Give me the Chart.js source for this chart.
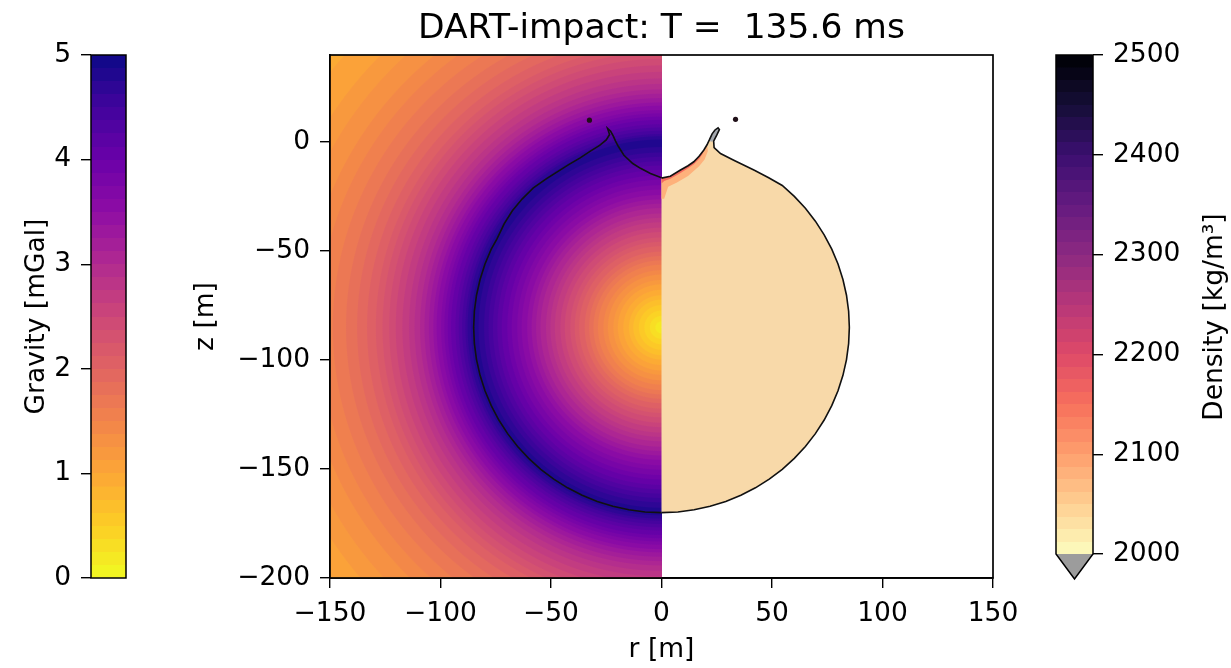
<!DOCTYPE html>
<html><head><meta charset="utf-8">
<script src="https://cdn.jsdelivr.net/npm/chart.js@4.4.1/dist/chart.umd.min.js"></script>
<style>
html,body{margin:0;padding:0;background:#fff;width:1231px;height:668px;overflow:hidden}
canvas{position:absolute;left:0;top:0}
</style></head><body>
<canvas id="cbG" width="1231" height="668"></canvas>
<canvas id="main" width="1231" height="668"></canvas>
<canvas id="cbD" width="1231" height="668"></canvas>
<script>
// ---------------- data ----------------
const titleText = 'DART-impact: T =  135.6 ms';
const xTitle = 'r [m]';
const zTitle = 'z [m]';
const gravityTitle = 'Gravity [mGal]';
const densityTitle = 'Density [kg/m\u00B3]';
const xTicks = [-150, -100, -50, 0, 50, 100, 150];
const zTicks = [-200, -150, -100, -50, 0];
const xRange = [-150, 150];
const zRange = [-200, 40];
const gravityTicks = [0, 1, 2, 3, 4, 5];
const densityTicks = [2000, 2100, 2200, 2300, 2400, 2500];
const gravityRange = [0, 5];
const densityRange = [2000, 2500];
const nLevels = 40;

// gravity (left half) : radial profile about the body centre
const gravityCenter = [0, -85];
const gravityDist = [0, 10, 20, 30, 40, 50, 60, 70, 80, 85, 90, 100, 110, 120, 130, 140, 150, 160, 170, 180, 190, 200];
const gravityVal  = [0.1, 0.6, 1.15, 1.7, 2.3, 2.85, 3.45, 4.0, 4.6, 4.85, 4.4, 3.6, 2.95, 2.5, 2.1, 1.8, 1.6, 1.4, 1.25, 1.1, 1.0, 0.9];

// body outline, right half (r >= 0)
const rightR = [0, 4, 8.6, 12, 14.6, 17, 19.1, 20.6, 21.6, 22.9, 24.2, 25.6, 26.2, 25, 23.6, 23.8, 26.7, 32.7, 41.8, 48.5,
  54.64, 60.1, 65.11, 69.63, 73.61, 77.04, 79.87, 82.1, 83.71, 84.68, 85, 84.68, 83.71, 82.1, 79.87, 77.04, 73.61, 69.63,
  65.11, 60.1, 54.64, 48.75, 42.5, 35.92, 29.07, 22.0, 14.76, 7.41, 0];
const rightZ = [-16.5, -15.6, -12.8, -10.8, -9, -6.5, -3.7, -1.2, 0.9, 3.8, 5.6, 6.6, 5.8, 3.2, 0.5, -2.5, -5.2, -8.3, -12.8, -16.3,
  -19.89, -24.9, -30.36, -36.25, -42.5, -49.08, -55.93, -63.0, -70.24, -77.59, -85, -92.41, -99.76, -107.0, -114.07, -120.92, -127.5, -133.75,
  -139.64, -145.1, -150.11, -154.63, -158.61, -162.04, -164.87, -167.1, -168.71, -169.68, -170];
// body outline, left half (r <= 0)
const leftR = [0, -5, -9.5, -13, -17, -19.5, -20.8, -21.8, -23, -24.4, -23.5, -25, -28, -32, -37, -42, -47, -52, -58, -63, -67.5, -71.2, -74.5,
  -77.04, -79.87, -82.1, -83.71, -84.68, -85, -84.68, -83.71, -82.1, -79.87, -77.04, -73.61, -69.63, -65.11, -60.1, -54.64, -48.75, -42.5, -35.92, -29.07, -22.0, -14.76, -7.41, 0];
const leftZ = [-16.3, -14.4, -12, -9.8, -6, -2, 0.5, 2.8, 5, 6.3, 3.5, 1, -1.5, -4, -7.3, -10.3, -13.5, -16.7, -21, -26, -31.5, -37.5, -44.5,
  -49.08, -55.93, -63.0, -70.24, -77.59, -85, -92.41, -99.76, -107.0, -114.07, -120.92, -127.5, -133.75, -139.64, -145.1, -150.11, -154.63, -158.61, -162.04, -164.87, -167.1, -168.71, -169.68, -170];
const bodyColor = '#f8d9a9';

// compressed layer below the crater floor (right half)
const haloR = [0, 4, 8.6, 12, 14.6, 17, 19.1, 20.6, 21, 19.5, 17, 12, 7, 3, 1.2, 0];
const haloZ = [-16.5, -15.6, -12.8, -10.8, -9, -6.5, -3.7, -1.2, -4, -8, -11, -15.5, -18.5, -20.5, -26, -26];
const haloDensity = 2085;
const bandR = [0, 4, 8.6, 12, 14.6, 17, 19.1, 18.5, 17.2, 14.5, 12, 8.6, 4, 1.2, 0];
const bandZ = [-16.5, -15.6, -12.8, -10.8, -9, -6.5, -3.7, -5.5, -7.5, -10.2, -12, -14.1, -16.8, -17.8, -19];
const bandDensity = 2160;
// under-range material at the lip tip
const lipR = [22.9, 24.2, 25.6, 26.2, 25, 23.6, 22.4, 21.6];
const lipZ = [3.8, 5.6, 6.6, 5.8, 3.2, 0.5, 0.2, 0.9];
// ejecta fragments
const ejectaR = [-32.6, 33.5];
const ejectaZ = [10.1, 10.5];

// ---------------- colour maps ----------------
const plasmaStops = ['#0d0887','#41049d','#6a00a8','#8f0da4','#b12a90','#cc4778','#e16462','#f2844b','#fca636','#fcce25','#f0f921'];
const magmaStops  = ['#000004','#140e36','#3b0f70','#641a80','#8c2981','#b73779','#de4968','#f7705c','#fe9f6d','#fecf92','#fcfdbf'];
function hexRgb(h){return [parseInt(h.slice(1,3),16),parseInt(h.slice(3,5),16),parseInt(h.slice(5,7),16)];}
function sample(stops,t){
  t=Math.max(0,Math.min(1,t)); const n=stops.length-1; const f=t*n; const i=Math.min(n-1,Math.floor(f)); const u=f-i;
  const a=hexRgb(stops[i]), b=hexRgb(stops[i+1]);
  return 'rgb('+Math.round(a[0]+(b[0]-a[0])*u)+','+Math.round(a[1]+(b[1]-a[1])*u)+','+Math.round(a[2]+(b[2]-a[2])*u)+')';
}
// reversed maps (plasma_r / magma_r), quantised in nLevels
function levelColor(stops,v,range){
  let k=Math.floor((v-range[0])/(range[1]-range[0])*nLevels); k=Math.max(0,Math.min(nLevels-1,k));
  return sample(stops,1-(k+0.5)/nLevels);
}
function interpG(d){
  for(let i=0;i<gravityDist.length-1;i++){
    if(d<=gravityDist[i+1]){const u=(d-gravityDist[i])/(gravityDist[i+1]-gravityDist[i]);return gravityVal[i]+(gravityVal[i+1]-gravityVal[i])*u;}
  }
  return gravityVal[gravityVal.length-1];
}
const pts=(R,Z)=>R.map((r,i)=>({x:r,y:Z[i]}));
const fmt=v=>String(v).replace('-','\u2212');

Chart.defaults.font.family="'DejaVu Sans', sans-serif";
Chart.defaults.color='#000';
Chart.defaults.animation=false;
const FS=26.5;
const tickGrid={drawOnChartArea:false,drawTicks:true,tickLength:10,color:'#000',lineWidth:1.4};

// ---------------- plugins ----------------
const gravityField={id:'gravityField',beforeDatasetsDraw(chart){
  const {ctx,chartArea:a,scales:{x,y}}=chart;
  const cx=x.getPixelForValue(gravityCenter[0]), cy=y.getPixelForValue(gravityCenter[1]);
  const kx=Math.abs(x.getPixelForValue(1)-x.getPixelForValue(0));
  const ky=Math.abs(y.getPixelForValue(0)-y.getPixelForValue(1));
  const x0=Math.round(x.getPixelForValue(0));
  ctx.save();
  ctx.beginPath();ctx.rect(a.left,a.top,x0-a.left,a.bottom-a.top);ctx.clip();
  ctx.translate(cx,cy);ctx.scale(1,ky/kx);
  const maxD=gravityDist[gravityDist.length-1];
  const g=ctx.createRadialGradient(0,0,0,0,0,maxD*kx);
  for(let d=0;d<=maxD;d+=0.5){g.addColorStop(d/maxD,levelColor(plasmaStops,interpG(d),gravityRange));}
  ctx.fillStyle=g;ctx.fillRect(-3000,-3000,6000,6000);
  ctx.restore();
}};
const areaFill={id:'areaFill',beforeDatasetDraw(chart,args){
  const ds=chart.data.datasets[args.index]; if(!ds.areaColor) return;
  const pts=args.meta.data; if(!pts.length) return;
  const {ctx,chartArea:a}=chart;
  ctx.save();ctx.beginPath();ctx.rect(a.left,a.top,a.right-a.left,a.bottom-a.top);ctx.clip();
  ctx.beginPath();ctx.moveTo(pts[0].x,pts[0].y);
  for(let i=1;i<pts.length;i++)ctx.lineTo(pts[i].x,pts[i].y);
  ctx.closePath();ctx.fillStyle=ds.areaColor;ctx.fill();ctx.restore();
}};
const frame={id:'frame',afterDatasetsDraw(chart){
  const {ctx,chartArea:a}=chart;ctx.save();ctx.strokeStyle='#000';ctx.lineWidth=1.7;
  ctx.strokeRect(a.left,a.top,a.right-a.left,a.bottom-a.top);ctx.restore();
}};
const mainTitle={id:'mainTitle',afterDraw(chart){
  const {ctx,chartArea:a}=chart;ctx.save();ctx.font="34.5px 'DejaVu Sans'";ctx.fillStyle='#000';
  ctx.textAlign='center';ctx.textBaseline='alphabetic';ctx.fillText(titleText,(a.left+a.right)/2,37.5);ctx.restore();
}};

// ---------------- main chart ----------------
new Chart(document.getElementById('main'),{
  type:'scatter',
  data:{datasets:[
    {data:pts(rightR,rightZ),areaColor:bodyColor,showLine:false,pointRadius:0,order:6},
    {data:pts(haloR,haloZ),areaColor:levelColor(magmaStops,haloDensity,densityRange),showLine:false,pointRadius:0,order:5},
    {data:pts(bandR,bandZ),areaColor:levelColor(magmaStops,bandDensity,densityRange),showLine:false,pointRadius:0,order:4},
    {data:pts(lipR,lipZ),areaColor:'#a4a8ae',showLine:false,pointRadius:0,order:3},
    {data:pts(rightR,rightZ),showLine:true,borderColor:'#111',borderWidth:1.6,pointRadius:0,tension:0,order:2},
    {data:pts(leftR,leftZ),showLine:true,borderColor:'#111',borderWidth:1.6,pointRadius:0,tension:0,order:2},
    {data:pts(ejectaR,ejectaZ),showLine:false,pointRadius:2.6,backgroundColor:'#201018',borderWidth:0,order:1}
  ]},
  options:{
    responsive:false,animation:false,events:[],
    layout:{padding:{left:190,right:238,top:55,bottom:0}},
    plugins:{legend:{display:false},tooltip:{enabled:false},title:{display:false}},
    scales:{
      x:{type:'linear',min:xRange[0],max:xRange[1],
        afterBuildTicks:s=>{s.ticks=xTicks.map(v=>({value:v}));},
        afterFit:s=>{s.height=90;},
        ticks:{font:{size:FS},padding:10,autoSkip:false,maxRotation:0,callback:v=>fmt(v)},
        grid:tickGrid,border:{display:true,color:'#000',width:1.7},
        title:{display:true,text:xTitle,font:{size:FS},padding:{top:0,bottom:2}}},
      y:{type:'linear',min:zRange[0],max:zRange[1],
        afterBuildTicks:s=>{s.ticks=zTicks.map(v=>({value:v}));},
        afterFit:s=>{s.width=140;},
        ticks:{font:{size:FS},padding:10,autoSkip:false,callback:v=>fmt(v)},
        grid:tickGrid,border:{display:true,color:'#000',width:1.7},
        title:{display:true,text:zTitle,font:{size:FS},padding:{top:0,bottom:0}}}
    }
  },
  plugins:[gravityField,areaFill,frame,mainTitle]
});

// ---------------- colour bars ----------------
function barGradient(stops,range){
  return function(c){
    const ch=c.chart,a=ch.chartArea; if(!a) return null;
    const ys=ch.scales.y; const g=ch.ctx.createLinearGradient(0,ys.getPixelForValue(range[0]),0,ys.getPixelForValue(range[1]));
    for(let k=0;k<nLevels;k++){const col=levelColor(stops,range[0]+(k+0.5)*(range[1]-range[0])/nLevels,range);
      g.addColorStop(k/nLevels,col);g.addColorStop((k+1)/nLevels-1e-4,col);}
    return g;
  };
}
const cbFrame={id:'cbFrame',afterDatasetsDraw(chart,args,opts){
  const {ctx,chartArea:a}=chart;ctx.save();ctx.lineWidth=1.5;ctx.strokeStyle='#000';
  const mid=(a.left+a.right)/2, tip=a.bottom+25;
  if(opts.extend){
    ctx.beginPath();ctx.moveTo(a.left,a.bottom);ctx.lineTo(a.right,a.bottom);ctx.lineTo(mid,tip);ctx.closePath();
    ctx.fillStyle='#9c9c9c';ctx.fill();
    ctx.beginPath();ctx.moveTo(a.left,a.top);ctx.lineTo(a.right,a.top);ctx.lineTo(a.right,a.bottom);ctx.lineTo(mid,tip);ctx.lineTo(a.left,a.bottom);ctx.closePath();
  } else {
    ctx.beginPath();ctx.rect(a.left,a.top,a.right-a.left,a.bottom-a.top);
  }
  ctx.stroke();
  if(opts.label){ctx.font=FS+"px 'DejaVu Sans'";ctx.fillStyle='#000';ctx.textAlign='center';ctx.textBaseline='alphabetic';
    ctx.translate(opts.labelX,(a.top+tip)/2);ctx.rotate(-Math.PI/2);ctx.fillText(opts.label,0,0);}
  ctx.restore();
}};

new Chart(document.getElementById('cbG'),{
  type:'bar',
  data:{labels:[''],datasets:[{data:[gravityRange],backgroundColor:barGradient(plasmaStops,gravityRange),borderWidth:0,barPercentage:1,categoryPercentage:1}]},
  options:{responsive:false,animation:false,events:[],
    layout:{padding:{left:0,right:1231-126,top:55,bottom:668-578}},
    plugins:{legend:{display:false},tooltip:{enabled:false},cbFrame:{extend:false}},
    scales:{
      x:{display:false},
      y:{position:'left',min:gravityRange[0],max:gravityRange[1],
        afterBuildTicks:s=>{s.ticks=gravityTicks.map(v=>({value:v}));},
        afterFit:s=>{s.width=91;},
        ticks:{font:{size:FS},padding:10,callback:v=>fmt(v)},
        grid:tickGrid,border:{display:false},
        title:{display:true,text:gravityTitle,font:{size:FS},padding:{top:21,bottom:0}}}
    }},
  plugins:[cbFrame]
});

new Chart(document.getElementById('cbD'),{
  type:'bar',
  data:{labels:[''],datasets:[{data:[densityRange],backgroundColor:barGradient(magmaStops,densityRange),borderWidth:0,barPercentage:1,categoryPercentage:1}]},
  options:{responsive:false,animation:false,events:[],
    layout:{padding:{left:1056,right:1231-1093-100,top:55,bottom:668-554}},
    plugins:{legend:{display:false},tooltip:{enabled:false},cbFrame:{extend:true,label:densityTitle,labelX:1222}},
    scales:{
      x:{display:false},
      y:{position:'right',min:densityRange[0],max:densityRange[1],
        afterBuildTicks:s=>{s.ticks=densityTicks.map(v=>({value:v}));},
        afterFit:s=>{s.width=100;},
        ticks:{font:{size:FS},padding:10,callback:v=>fmt(v)},
        grid:tickGrid,border:{display:false}}
    }},
  plugins:[cbFrame]
});
</script>
</body></html>
